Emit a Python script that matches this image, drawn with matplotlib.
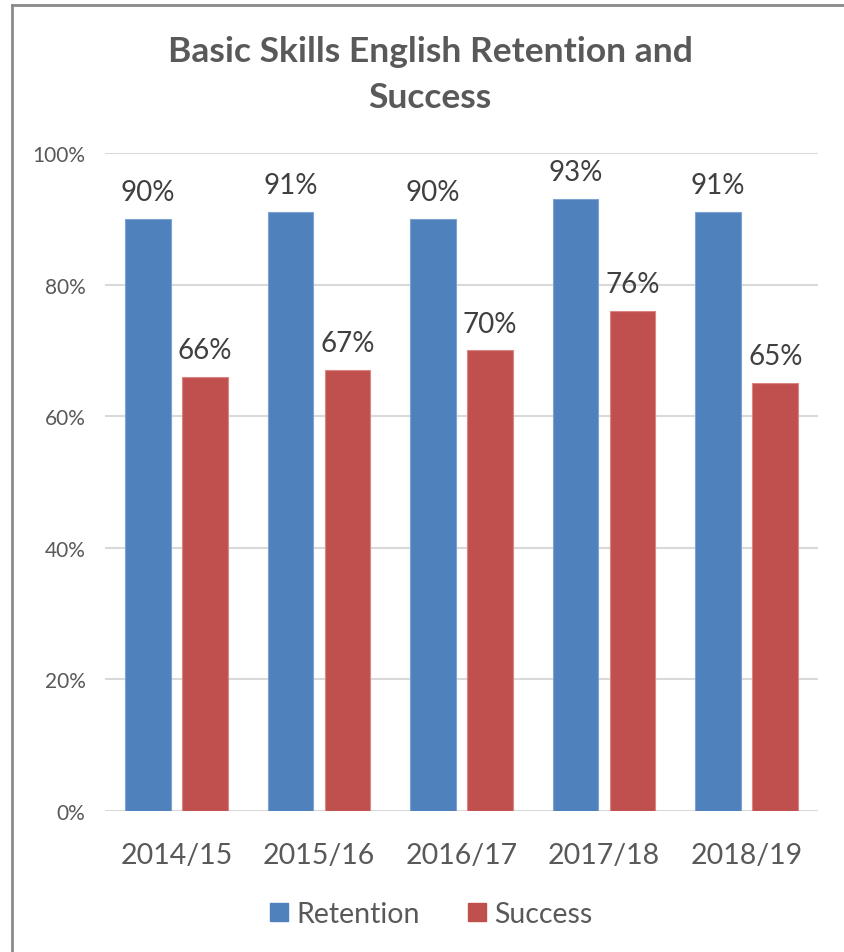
import numpy as np
import matplotlib
matplotlib.use("Agg")
import matplotlib.pyplot as plt
from matplotlib.lines import Line2D

plt.rcParams['font.family'] = ['Lato', 'DejaVu Sans']

# Data
years = ["2014/15", "2015/16", "2016/17", "2017/18", "2018/19"]
retention = [90, 91, 90, 93, 91]
success = [66, 67, 70, 76, 65]

blue = "#4F81BD"
red = "#C0504D"
txt = "#595959"

fig = plt.figure(figsize=(8.45, 9.53), dpi=100)
ax = fig.add_axes([0.1243, 0.148, 0.8438, 0.6904])

x = np.arange(len(years))
w = 0.32
b1 = ax.bar(x - 0.2, retention, w, color=blue, edgecolor="#7FA3D0", linewidth=0.8, zorder=3, label="Retention")
b2 = ax.bar(x + 0.2, success, w, color=red, edgecolor="#D88785", linewidth=0.8, zorder=3, label="Success")

for bars, vals in [(b1, retention), (b2, success)]:
    for r, v in zip(bars, vals):
        ax.annotate(f"{v}%", (r.get_x() + r.get_width() / 2, v), xytext=(0, 10),
                    textcoords="offset points", ha="center", va="bottom",
                    fontsize=20, color="#404040")

ax.set_xlim(-0.5, len(years) - 0.5)
ax.set_ylim(0, 100)
ax.set_yticks([0, 20, 40, 60, 80, 100])
ax.set_yticklabels([f"{t}%" for t in [0, 20, 40, 60, 80, 100]])
ax.set_xticks(x)
ax.set_xticklabels(years)
ax.tick_params(axis="y", length=0, pad=14, labelsize=15, labelcolor=txt)
ax.tick_params(axis="x", length=0, pad=22, labelsize=20.5, labelcolor=txt)
ax.grid(axis="y", color="#D9D9D9", linewidth=1.5, zorder=0)
for s in ax.spines.values():
    s.set_visible(False)

fig.text(0.509, 0.9454, "Basic Skills English Retention and", ha="center", va="center",
         fontsize=25.5, fontweight="bold", color=txt)
fig.text(0.509, 0.8972, "Success", ha="center", va="center",
         fontsize=25.5, fontweight="bold", color=txt)

handles = [Line2D([], [], marker="s", linestyle="none", markersize=13, color=blue),
           Line2D([], [], marker="s", linestyle="none", markersize=13, color=red)]
fig.legend(handles, ["Retention", "Success"], loc="center", bbox_to_anchor=(0.507, 0.04),
           ncol=2, frameon=False, fontsize=20.5, labelcolor=txt, handletextpad=0.1,
           columnspacing=1.5, handlelength=1.0)

# chart border (left and top only visible)
fig.add_artist(Line2D([0.0142, 0.0142], [0, 0.9937], color="#8A8A8A", linewidth=2, transform=fig.transFigure))
fig.add_artist(Line2D([0.0142, 1.0], [0.9937, 0.9937], color="#8A8A8A", linewidth=2, transform=fig.transFigure))

fig.savefig("out.png", dpi=100)
